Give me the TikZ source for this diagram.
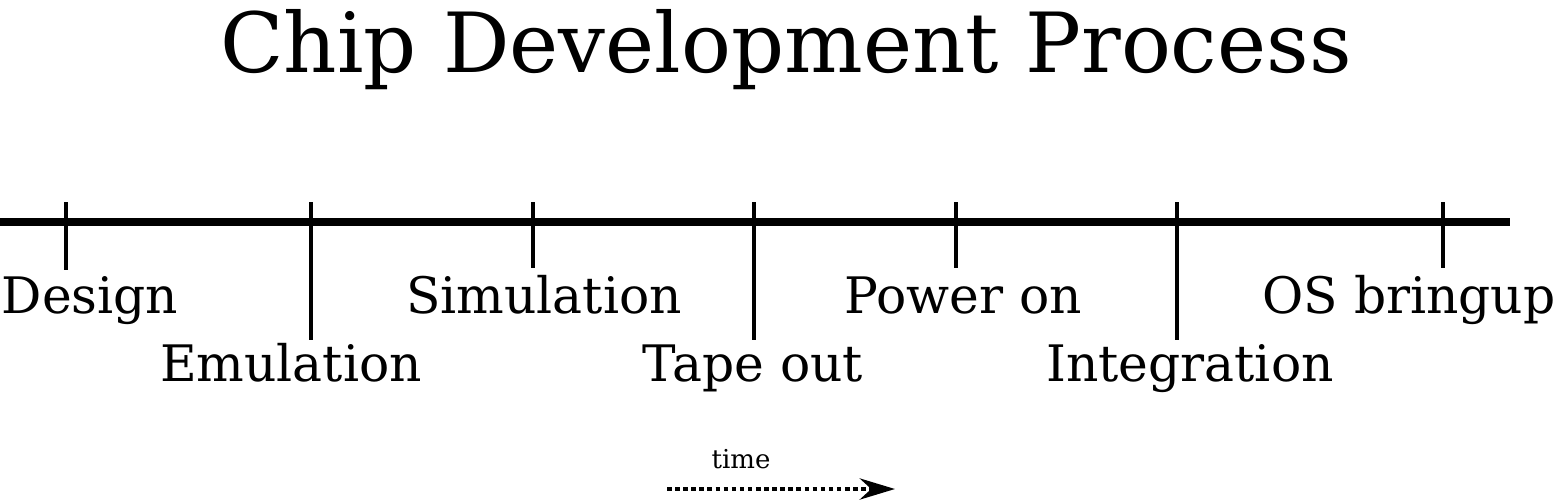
\documentclass[tikz,border=0pt]{standalone}
\usepackage{fontspec}
\setmainfont{DejaVu Serif}
\usetikzlibrary{arrows.meta}
\tikzstyle{label} = [inner sep=0pt, anchor=base, font=\fontsize{14.3}{17}\selectfont]
\tikzstyle{tick} = [line width=1.1pt]
\begin{document}
\begin{tikzpicture}[x=0.01cm,y=-0.01cm]
\useasboundingbox (0,0) rectangle (1556,502);
\node[inner sep=0pt, anchor=base, font=\fontsize{23.6}{28}\selectfont] (title) at (786,72) {Chip Development Process};
% timeline
\coordinate (start) at (0,222);
\coordinate (end) at (1510,222);
\draw[line width=2.4pt] (start)--(end);
\foreach \x/\len in {66/270, 311/340, 533/268, 754/340, 956/268, 1177/340, 1443/268}
  \draw[tick] (\x,202)--(\x,\len);
\node[label] (design) at (90,313) {Design};
\node[label] (emulation) at (291,381) {Emulation};
\node[label] (simulation) at (544,313) {Simulation};
\node[label] (tapeout) at (753,381) {Tape out};
\node[label] (poweron) at (963,313) {Power on};
\node[label] (integration) at (1190,381) {Integration};
\node[label] (osbringup) at (1409,313) {OS bringup};
% time arrow
\node[inner sep=0pt, anchor=base, font=\fontsize{7.4}{9}\selectfont] (time) at (741,468) {time};
\coordinate (t0) at (667,489);
\coordinate (t1) at (895,489);
\draw[line width=1.3pt, dash pattern=on 1.3pt off 1pt, -{Stealth[length=10pt,width=6pt]}] (t0)--(t1);
\end{tikzpicture}
\end{document}
